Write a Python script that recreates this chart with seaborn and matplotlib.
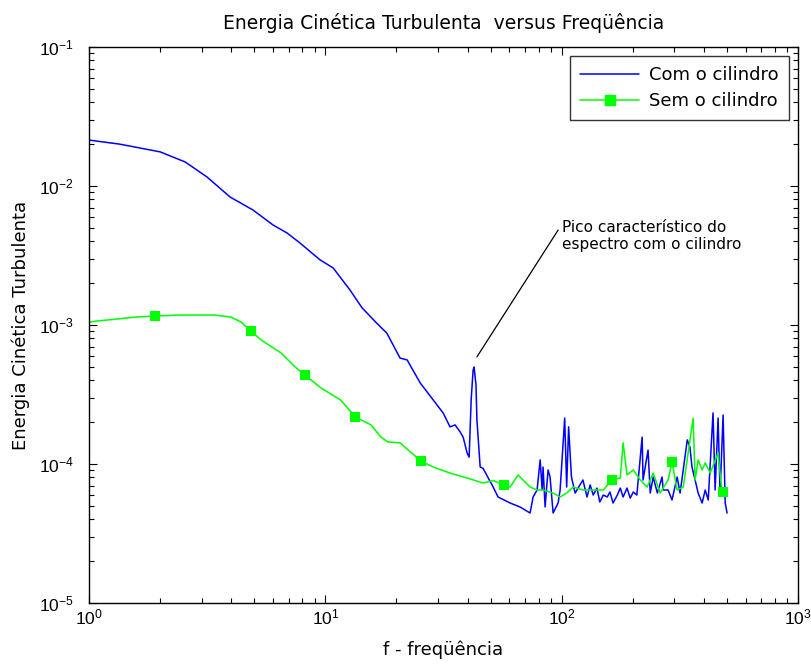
import numpy as np
import pandas as pd
import matplotlib
matplotlib.use("Agg")
import matplotlib.pyplot as plt
from matplotlib.lines import Line2D
import seaborn as sns

# ---------------- data ----------------
f_com = [1.00, 1.35, 2.00, 2.55, 3.16, 3.95, 4.94, 6.01, 6.89, 7.81, 9.50, 10.8,
         12.7, 14.3, 16.5, 18.2, 20.7, 22.2, 25.2, 28.6, 31.5, 33.7, 35.4, 37.2,
         38.3, 39.8, 40.6, 41.4, 42.2, 42.6, 43.4, 43.8, 45.2, 46.5, 51.3, 53.8,
         60.5, 66.6, 73.5, 75.7, 78.7, 81.1, 82.7, 83.4, 85.1, 87.6, 89.3, 92.0,
         96.6, 98.5, 103, 105, 107, 110, 114, 123, 128, 132, 136, 141, 145, 150,
         156, 160, 165, 172, 177, 182, 189, 195, 201, 208, 219, 221, 232, 237,
         244, 254, 266, 269, 282, 293, 308, 317, 340, 349, 356, 367, 378, 393,
         405, 417, 437, 446, 459, 468, 482, 492, 501]
e_com = [2.14e-2, 2.00e-2, 1.76e-2, 1.49e-2, 1.16e-2, 8.34e-3, 6.72e-3, 5.24e-3,
         4.59e-3, 3.89e-3, 2.94e-3, 2.57e-3, 1.79e-3, 1.33e-3, 1.03e-3, 8.75e-4,
         5.79e-4, 5.60e-4, 3.83e-4, 2.89e-4, 2.33e-4, 1.85e-4, 1.91e-4, 1.70e-4,
         1.56e-4, 1.20e-4, 1.12e-4, 2.89e-4, 4.74e-4, 4.99e-4, 3.70e-4, 2.07e-4,
         9.51e-5, 9.30e-5, 6.83e-5, 5.79e-5, 5.24e-5, 4.91e-5, 4.44e-5, 5.79e-5,
         6.50e-5, 1.07e-4, 6.50e-5, 9.51e-5, 4.91e-5, 9.06e-5, 8.06e-5, 4.44e-5,
         5.24e-5, 6.50e-5, 2.14e-4, 6.83e-5, 1.85e-4, 8.06e-5, 6.18e-5, 7.67e-5,
         5.79e-5, 7.07e-5, 5.98e-5, 6.71e-5, 5.33e-5, 5.98e-5, 5.79e-5, 6.29e-5,
         5.24e-5, 5.98e-5, 6.71e-5, 5.79e-5, 6.71e-5, 5.69e-5, 6.29e-5, 5.98e-5,
         1.56e-4, 7.67e-5, 1.26e-4, 6.18e-5, 8.06e-5, 6.18e-5, 8.06e-5, 6.50e-5,
         6.50e-5, 5.51e-5, 8.06e-5, 6.18e-5, 1.49e-4, 1.32e-4, 9.51e-5, 7.67e-5,
         6.18e-5, 5.24e-5, 6.50e-5, 5.51e-5, 2.33e-4, 6.50e-5, 2.14e-4, 6.18e-5,
         2.25e-4, 5.24e-5, 4.44e-5]

f_sem = [1.00, 1.09, 1.29, 1.57, 1.90, 2.45, 3.41, 3.99, 4.40, 4.85, 5.35, 6.50,
         7.45, 8.20, 9.59, 11.6, 13.4, 15.6, 17.2, 18.4, 20.7, 25.4, 28.6, 33.7,
         39.8, 46.5, 51.3, 57.0, 60.5, 65.4, 68.7, 73.5, 78.7, 83.4, 92.0, 98.5,
         105, 112, 123, 136, 150, 163, 177, 182, 189, 201, 215, 230, 244, 261,
         282, 293, 308, 327, 360, 367, 378, 393, 405, 425, 459, 477, 482, 492, 501]
e_sem = [1.05e-3, 1.07e-3, 1.10e-3, 1.14e-3, 1.16e-3, 1.18e-3, 1.18e-3, 1.14e-3,
         1.05e-3, 9.06e-4, 7.80e-4, 6.29e-4, 4.99e-4, 4.37e-4, 3.52e-4, 2.89e-4,
         2.18e-4, 1.91e-4, 1.56e-4, 1.44e-4, 1.42e-4, 1.05e-4, 9.51e-5, 8.61e-5,
         7.93e-5, 7.29e-5, 7.60e-5, 7.07e-5, 6.83e-5, 8.34e-5, 7.67e-5, 6.83e-5,
         6.50e-5, 6.50e-5, 6.18e-5, 5.79e-5, 6.18e-5, 6.83e-5, 6.50e-5, 6.50e-5,
         6.50e-5, 7.67e-5, 7.93e-5, 1.42e-4, 8.34e-5, 9.06e-5, 7.67e-5, 6.83e-5,
         8.61e-5, 6.18e-5, 7.67e-5, 1.03e-4, 6.50e-5, 6.83e-5, 2.14e-4, 7.67e-5,
         1.07e-4, 9.06e-5, 1.02e-4, 8.61e-5, 1.20e-4, 6.18e-5, 6.29e-5, 6.50e-5,
         6.30e-5]

# marker positions of the "Sem o cilindro" series
f_sem_mk = [1.90, 4.85, 8.20, 13.4, 25.4, 57.0, 163, 293, 482]
e_sem_mk = [1.16e-3, 9.06e-4, 4.37e-4, 2.18e-4, 1.05e-4, 7.07e-5, 7.67e-5, 1.03e-4, 6.29e-5]

series_labels = ["Com o cilindro", "Sem o cilindro"]
title = "Energia Cinética Turbulenta  versus Freqüência"
xlabel = "f - freqüência"
ylabel = "Energia Cinética Turbulenta"
annot_text = "Pico característico do\nespectro com o cilindro"
annot_line_f = [43.8, 96.6]
annot_line_e = [5.9e-4, 4.82e-3]
annot_text_pos = (100.4, 5.7e-3)

# ---------------- plotting ----------------
sns.set_theme(style="white")
plt.rcParams["font.family"] = ["Liberation Sans", "DejaVu Sans"]
plt.rcParams["mathtext.default"] = "regular"
plt.rcParams["text.color"] = "black"
plt.rcParams["axes.labelcolor"] = "black"
plt.rcParams["xtick.color"] = "black"
plt.rcParams["ytick.color"] = "black"
txt_font = ["DejaVu Sans"]

df_com = pd.DataFrame({"f": f_com, "E": e_com})
df_sem = pd.DataFrame({"f": f_sem, "E": e_sem})
df_mk = pd.DataFrame({"f": f_sem_mk, "E": e_sem_mk})
df_ann = pd.DataFrame({"f": annot_line_f, "E": annot_line_e})

fig = plt.figure(figsize=(8.12, 6.66), dpi=100)
ax = fig.add_axes([89 / 812, 1 - 603 / 666, (798 - 89) / 812, (603 - 47) / 666])

blue = "#0000ff"
green = "#00ff00"

sns.lineplot(data=df_com, x="f", y="E", ax=ax, color=blue, lw=1.1,
             estimator=None, sort=False)
sns.lineplot(data=df_sem, x="f", y="E", ax=ax, color=green, lw=1.1,
             estimator=None, sort=False)
sns.scatterplot(data=df_mk, x="f", y="E", ax=ax, color=green, marker="s",
                s=55, edgecolor=green, linewidth=0, zorder=5)
sns.lineplot(data=df_ann, x="f", y="E", ax=ax, color="black", lw=0.9,
             estimator=None, sort=False)

ax.set_xscale("log")
ax.set_yscale("log")
ax.set_xlim(1, 1000)
ax.set_ylim(1e-5, 1e-1)

ax.tick_params(which="both", direction="in", top=True, right=True,
               bottom=True, left=True, color="black", labelcolor="black",
               labelsize=12.5)
ax.tick_params(which="major", length=6, width=0.8)
ax.tick_params(which="minor", length=3.5, width=0.8)
ax.tick_params(axis="x", which="major", pad=3)
ax.tick_params(axis="y", which="major", pad=11)
for sp in ax.spines.values():
    sp.set_color("black")
    sp.set_linewidth(1.0)

ax.set_title(title, fontsize=13.5, pad=13, family=txt_font, color="black")
ax.set_xlabel(xlabel, fontsize=13, labelpad=10, family=txt_font, color="black")
ax.set_ylabel(ylabel, fontsize=13, labelpad=6, family=txt_font, color="black")

ax.text(annot_text_pos[0], annot_text_pos[1], annot_text, fontsize=11,
        family=txt_font, ha="left", va="top", linespacing=1.15, color="black")

handles = [Line2D([0], [0], color=blue, lw=1.1),
           Line2D([0], [0], color=green, lw=1.1, marker="s", markersize=7)]
leg = ax.legend(handles, series_labels, loc="upper right",
                prop={"family": txt_font, "size": 13},
                frameon=True, fancybox=False, edgecolor="black",
                borderaxespad=0.5, handlelength=3.3, handletextpad=0.55,
                borderpad=0.55, labelspacing=0.45)
leg.get_frame().set_linewidth(1.0)
for t in leg.get_texts():
    t.set_color("black")

fig.savefig("out.png", dpi=100, facecolor="white")
